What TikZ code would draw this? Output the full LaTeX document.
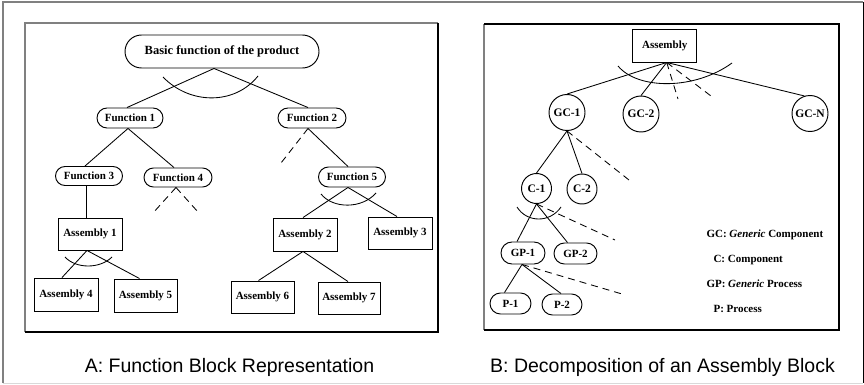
\documentclass[tikz,border=0pt]{standalone}
\usepackage{fontspec}
\setmainfont{Liberation Serif}
\newfontfamily\capfont{Liberation Sans}
\usetikzlibrary{shapes.misc,calc}
\tikzset{
  lbl/.style={font=\fontsize{11}{12}\selectfont\bfseries},
  pill/.style={draw, rounded rectangle, inner sep=0pt, line width=0.95pt, lbl},
  boxnode/.style={draw, rectangle, inner sep=0pt, line width=0.95pt, minimum width=64, minimum height=32, lbl},
  circ/.style={draw, circle, inner sep=0pt, line width=0.95pt, font=\fontsize{11.5}{12}\selectfont\bfseries},
  conn/.style={line width=0.85pt},
  dsh/.style={conn, dash pattern=on 7pt off 5pt},
  frameg/.style={line width=1.3pt, black!50},
  frameb/.style={line width=1.3pt, black},
  caption/.style={font=\capfont\fontsize{19.5}{22}\selectfont, anchor=base},
  legend/.style={lbl, anchor=base west}
}
\begin{document}
\begin{tikzpicture}[x=1pt,y=-1pt]
\useasboundingbox (0,0) rectangle (864,385);
% outer frame
\draw[line width=1.2pt, black!50] (3,383) -- (3,2) -- (863,2);
\draw[line width=1pt, black] (863,2) -- (863,383);
\draw[line width=1pt, black!15] (3,383) -- (863,383);
% panel frames
\draw[frameg] (25,332) -- (25,23) -- (438,23);
\draw[frameb] (438,23) -- (438,332) -- (25,332);
\draw[frameg] (484,330) -- (484,24);
\draw[frameb] (484,24) -- (839,24) -- (839,330) -- (484,330);

% ---------- Panel A ----------
\node[pill, minimum width=194, minimum height=33, font=\fontsize{12.5}{14}\selectfont\bfseries] (top) at (222,51.5) {Basic function of the product};
\node[pill, minimum width=66, minimum height=20] (f1) at (130,118) {Function 1};
\node[pill, minimum width=68, minimum height=20] (f2) at (312,118) {Function 2};
\node[pill, minimum width=67, minimum height=19] (f3) at (89,176) {Function 3};
\node[pill, minimum width=68, minimum height=19] (f4) at (178,177.5) {Function 4};
\node[pill, minimum width=67, minimum height=20] (f5) at (352,177) {Function 5};
\node[boxnode] (a1) at (90,234) {Assembly 1};
\node[boxnode, minimum height=33] (a2) at (305,234.5) {Assembly 2};
\node[boxnode] (a3) at (400,233) {Assembly 3};
\node[boxnode, minimum height=33] (a4) at (66,294.5) {Assembly 4};
\node[boxnode, minimum width=63, minimum height=33] (a5) at (145.5,295.5) {Assembly 5};
\node[boxnode, minimum width=63] (a6) at (262.5,297) {Assembly 6};
\node[boxnode, minimum width=62] (a7) at (349,298) {Assembly 7};

\draw[conn] ([xshift=-8]top.south) -- ([xshift=-3]f1.north);
\draw[conn] ([xshift=-8]top.south) -- ([xshift=-4]f2.north);
\draw[conn] (163,77) .. controls (190,105) and (235,105) .. (258,76);

\draw[conn] ([xshift=-2]f1.south) -- ([xshift=-4]f3.north);
\draw[conn] ([xshift=-2]f1.south) -- ([xshift=-4]f4.north);
\draw[conn] ([xshift=-4]f2.south) -- ([xshift=-4]f5.north);
\coordinate (d1) at (281,163);
\draw[dsh] ([xshift=-4]f2.south) -- (d1);
\draw[conn] ([xshift=-3]f3.south) -- ([xshift=-4]a1.north);
\coordinate (d2) at (153,213);
\coordinate (d3) at (198,212);
\draw[dsh] ([xshift=-2]f4.south) -- (d2);
\draw[dsh] ([xshift=-2]f4.south) -- (d3);
\draw[conn] ([xshift=-4]f5.south) -- ([xshift=-2]a2.north);
\draw[conn] ([xshift=-4]f5.south) -- ([xshift=-3]a3.north);
\draw[conn] (321,194) .. controls (333,209) and (362,209) .. (376,193);
\draw[conn] ([xshift=-3]a1.south) -- ([xshift=-4]a4.north);
\draw[conn] ([xshift=-3]a1.south) -- ([xshift=-6]a5.north);
\draw[conn] (65,257) .. controls (76,269) and (100,269) .. (112,257);
\draw[conn] ([xshift=-2]a2.south) -- ([xshift=-4]a6.north);
\draw[conn] ([xshift=-2]a2.south) -- ([xshift=-1]a7.north);

% ---------- Panel B ----------
\node[boxnode, minimum height=33] (asm) at (664.7,45.5) {Assembly};
\node[circ, minimum size=36] (gc1) at (567,112.5) {GC-1};
\node[circ, minimum size=36] (gc2) at (641,114) {GC-2};
\node[circ, minimum size=36] (gcn) at (810,113.5) {GC-N};
\node[circ, minimum size=30] (c1) at (536.5,188.5) {C-1};
\node[circ, minimum size=30] (c2) at (582,189) {C-2};
\node[pill, minimum width=44, minimum height=22] (gp1) at (523,253) {GP-1};
\node[pill, minimum width=43, minimum height=21] (gp2) at (575.5,253.5) {GP-2};
\node[pill, minimum width=41, minimum height=21] (p1) at (510.5,303.5) {P-1};
\node[pill, minimum width=40, minimum height=21] (p2) at (562,304.5) {P-2};

\draw[conn] ([xshift=2]asm.south) -- (gc1.north);
\draw[conn] ([xshift=2]asm.south) -- (gc2.north);
\draw[conn] ([xshift=2]asm.south) -- (gcn.108);
\coordinate (e1) at (678,99);
\coordinate (e2) at (711,96);
\draw[dsh] ([xshift=2]asm.south) -- (e1);
\draw[dsh] ([xshift=2]asm.south) -- (e2);
\draw[conn] (618,66) .. controls (638,90) and (695,90) .. (732,63);

\draw[conn] (gc1.south) -- (c1.north);
\draw[conn] (gc1.south) -- (c2.north);
\coordinate (e3) at (629,180);
\draw[dsh] (gc1.south) -- (e3);

\draw[conn] (c1.south) -- ([xshift=-6]gp1.north);
\draw[conn] (c1.south) -- ([xshift=-8]gp2.north);
\coordinate (e4) at (615,240);
\draw[dsh] (c1.south) -- (e4);
\draw[conn] (517,207) .. controls (527,223) and (550,223) .. (561,207);

\draw[conn] ([xshift=-1]gp1.south) -- ([xshift=-6]p1.north);
\draw[conn] ([xshift=-1]gp1.south) -- ([xshift=-1]p2.north);
\coordinate (e5) at (622,294);
\draw[dsh] ([xshift=-1]gp1.south) -- (e5);

% legend
\node[legend] (lg1) at (703,237.5) {GC: \textit{Generic} Component};
\node[legend] (lg2) at (710,262) {C: Component};
\node[legend] (lg3) at (703,287) {GP: \textit{Generic} Process};
\node[legend] (lg4) at (710,312) {P: Process};

% captions
\node[caption] (capa) at (229.5,372) {A: Function Block Representation};
\node[caption] (capb) at (662.5,372) {B: Decomposition of an Assembly Block};
\end{tikzpicture}
\end{document}
